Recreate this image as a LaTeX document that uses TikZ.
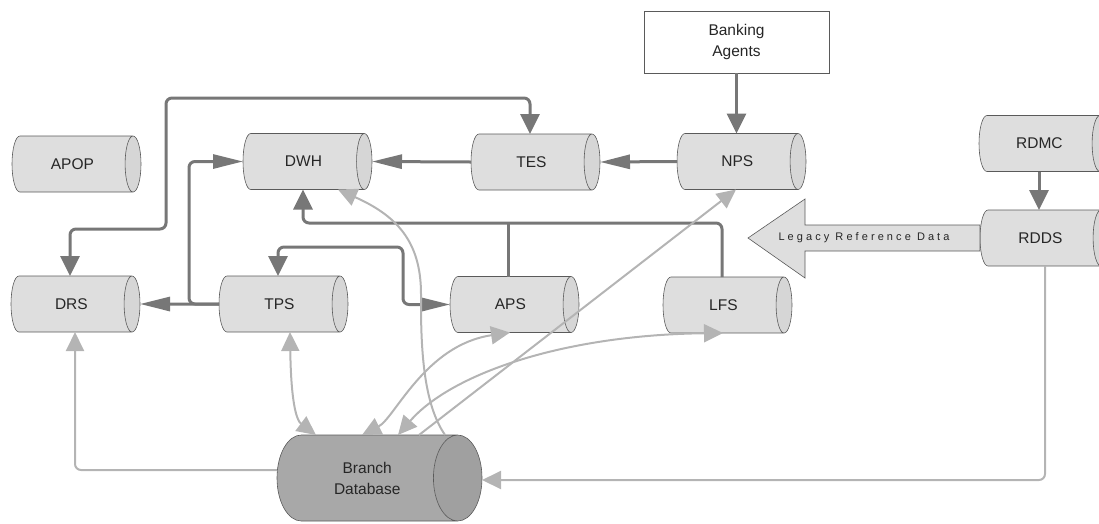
\documentclass[tikz,border=0pt]{standalone}
\usepackage{fontspec}
\setmainfont{Liberation Sans}
\newfontfamily\spacedfont[LetterSpace=28]{Liberation Sans}
\usetikzlibrary{shapes.geometric, arrows.meta}

\definecolor{darkline}{HTML}{777777}
\definecolor{lightline}{HTML}{B4B4B4}
\definecolor{cylfill}{HTML}{DEDEDE}
\definecolor{cylend}{HTML}{D6D6D6}
\definecolor{branchfill}{HTML}{A8A8A8}
\definecolor{branchend}{HTML}{A0A0A0}
\definecolor{edge}{HTML}{5A5A5A}

\tikzset{
  vtip/.tip={Triangle[length=20pt,width=19pt]},
  htip/.tip={Triangle[length=30pt,width=14pt]},
  ltip/.tip={Triangle[length=19pt,width=18pt]},
  % a lying cylinder: "height" runs along its axis; placed by its left end
  store/.style={cylinder, shape border rotate=0, aspect=1.45, draw=edge,
    line width=0.6pt, cylinder uses custom fill, cylinder body fill=cylfill,
    cylinder end fill=cylend, minimum height=129pt, minimum width=56pt,
    inner sep=0pt, outer sep=0pt, text=black!85, anchor=west,
    font=\fontsize{15.5}{21}\selectfont},
  darkflow/.style={draw=darkline, line width=3pt, rounded corners=6pt},
  lightflow/.style={draw=lightline, line width=2pt, rounded corners=6pt},
}

\begin{document}
\begin{tikzpicture}[x=1pt,y=-1pt]
\useasboundingbox (0,0) rectangle (1099,523);
\clip (0,0) rectangle (1099,523);

% data stores
\node[store] (apop) at (12,164) {APOP};
\node[store] (dwh)  at (243,161.5) {DWH};
\node[store] (tes)  at (471,162) {TES};
\node[store] (nps)  at (677,161.5) {NPS};
\node[store] (rdmc) at (979,143.5) {RDMC};
\node[store] (rdds) at (980,238) {RDDS};
\node[store] (drs)  at (11,304) {DRS};
\node[store] (tps)  at (219,304) {TPS};
\node[store] (aps)  at (450,304.5) {APS};
\node[store] (lfs)  at (663,305) {LFS};
\node[store, minimum height=205pt, minimum width=86pt, aspect=1.5,
      cylinder body fill=branchfill, cylinder end fill=branchend,
      align=center] (branch) at (277,478) {Branch\\Database};

% external source
\node[draw=edge, fill=white, line width=0.6pt, minimum width=185pt,
      minimum height=62pt, align=center, text=black!85,
      font=\fontsize{15.5}{21}\selectfont] (agents) at (736.5,42) {Banking\\Agents};

% reference data feed
\draw[fill=cylfill, draw=edge, line width=0.6pt]
  (748,238) -- (805,199) -- (805,225) -- (980,225) -- (980,251)
  -- (805,251) -- (805,278) -- cycle;
\node[text=black!85, font=\spacedfont\fontsize{11}{12}\selectfont]
  (legacy) at (864,238) {Legacy Reference Data};

% main flows
\draw[darkflow, -vtip] (agents.south) -- (agents.south |- nps.north);
\draw[darkflow, -htip] (nps.west) -- (tes.east);
\draw[darkflow, -htip] (tes.west) -- (dwh.east);
\draw[darkflow, vtip-vtip] (70,0 |- drs.north) |- (166,229) |- (530,98)
  -- (530,0 |- tes.north);
\draw[darkflow, -htip] (tps.west) -- (drs.east);
\draw[darkflow, -htip] (tps.west) -| (189,250) |- (dwh.west);
\draw[darkflow] (508,0 |- aps.north) -- ++(0,-54);
\draw[darkflow, -vtip] (722,0 |- lfs.north) |- (303,223) -- (303,0 |- dwh.south);
\draw[darkflow, vtip-htip] (278,0 |- tps.north) |- (403,247) |- (aps.west);
\draw[darkflow, -vtip] (1039,0 |- rdmc.south) -- (1039,0 |- rdds.north);

% branch database flows
\draw[lightflow, -ltip] ([yshift=8pt]branch.west) -| (75,0 |- drs.south);
\draw[lightflow, ltip-ltip] (290,0 |- tps.south) .. controls (291,400) and (296,420)
  .. (316,0 |- branch.north);
\draw[lightflow, ltip-ltip] (362,0 |- branch.north) .. controls (395,418) and (425,345)
  .. (510,0 |- aps.south);
\draw[lightflow, ltip-ltip] (398,0 |- branch.north) .. controls (450,375) and (560,335)
  .. (723,0 |- lfs.south);
\draw[lightflow, -ltip] (419,0 |- branch.north) -- (736,0 |- nps.south);
\draw[lightflow, -ltip] (445,0 |- branch.north) .. controls (428,410) and (421,370)
  .. (421,300) .. controls (421,240) and (395,215) .. (338,0 |- dwh.south);
\draw[lightflow, -ltip] (1045,0 |- rdds.south) |- ([yshift=-2pt]branch.east);
\end{tikzpicture}
\end{document}
